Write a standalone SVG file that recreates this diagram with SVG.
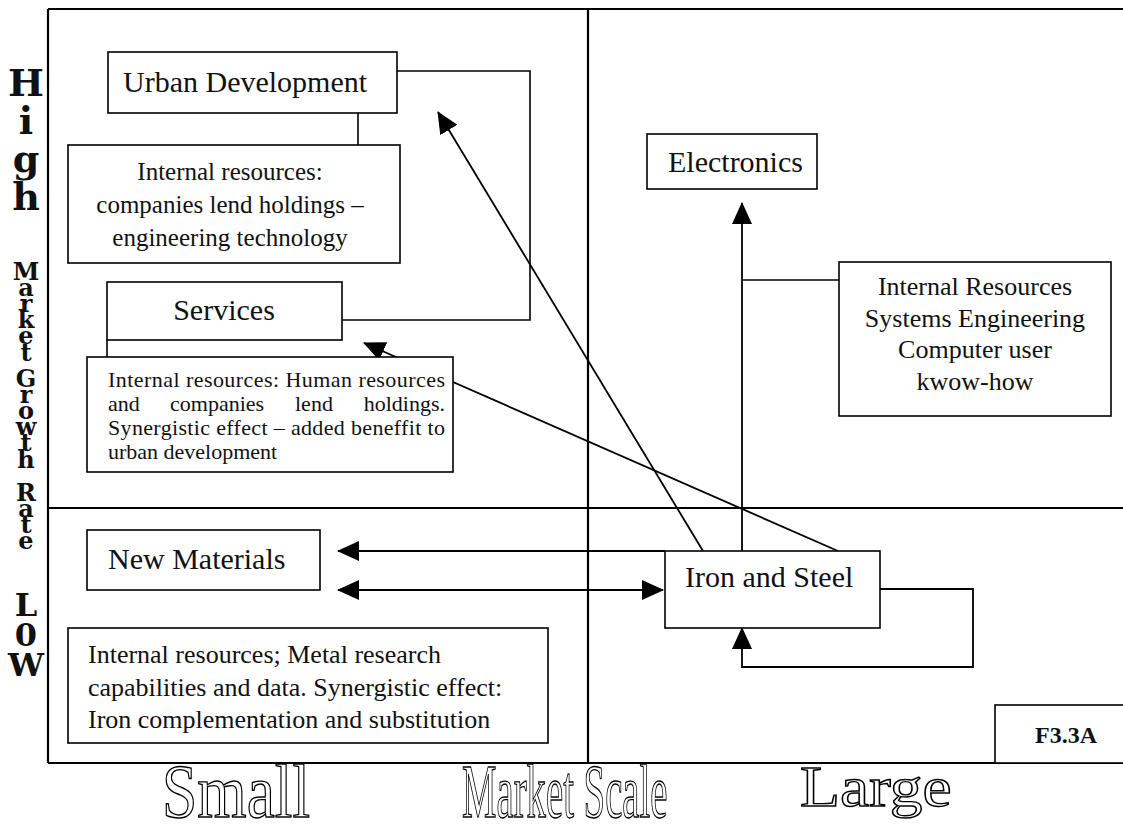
<svg xmlns="http://www.w3.org/2000/svg" width="1123" height="825" viewBox="0 0 1123 825">
  <defs>
    <marker id="arrow" markerUnits="userSpaceOnUse" markerWidth="22" markerHeight="20" viewBox="0 0 22 20" refX="21" refY="10" orient="auto-start-reverse">
      <path d="M0,0 L22,10 L0,20 Z" fill="#000"/>
    </marker>
    <style>
      .frame { stroke: #000; stroke-width: 2.2; fill: none; }
      .box { fill: #fff; stroke: #000; stroke-width: 1.6; }
      .link { fill: none; stroke: #000; stroke-width: 1.6; }
      .arr { fill: none; stroke: #000; stroke-width: 1.8; marker-end: url(#arrow); }
      .t { font-family: "Liberation Serif", "Times New Roman", serif; fill: #111; }
      .title { font-size: 30px; }
      .body { font-size: 26px; }
      .body25 { font-size: 25px; }
      .small { font-size: 22px; }
      .mid { text-anchor: middle; }
      .axis { font-family: "DejaVu Serif", "Liberation Serif", serif; font-weight: bold; fill: #111;
              writing-mode: vertical-rl; text-orientation: upright; }
      .hollow { font-family: "Liberation Serif", "Times New Roman", serif; fill: #fff; stroke: #000; stroke-width: 1.4; }
    </style>
  </defs>
  <rect width="1123" height="825" fill="#fff"/>

  <!-- quadrant frame -->
  <g id="frame" class="frame">
    <line x1="48" y1="9" x2="1123" y2="9"/>
    <line x1="48" y1="9" x2="48" y2="763"/>
    <line x1="48" y1="763" x2="1123" y2="763"/>
    <line x1="588" y1="9" x2="588" y2="763"/>
    <line x1="48" y1="508" x2="1123" y2="508"/>
  </g>

  <!-- vertical axis: growth rate, letters stacked upright -->
  <g id="axis-growth">
    <text class="axis" x="26" y="60" font-size="38" letter-spacing="-7">High</text>
    <text class="axis" x="26" y="257" font-size="24" letter-spacing="-12.9">Market</text>
    <text class="axis" x="26" y="364" font-size="24" letter-spacing="-12.9">Growth</text>
    <text class="axis" x="26" y="478" font-size="24" letter-spacing="-12.9">Rate</text>
    <text class="axis" x="26" y="586" font-size="32" letter-spacing="-8">L0W</text>
  </g>

  <!-- horizontal axis: market scale, hollow lettering -->
  <g id="axis-scale">
    <text class="hollow" transform="translate(162,817) scale(0.835,1)" font-size="76">Small</text>
    <text class="hollow" transform="translate(462,817) scale(0.51,1)" font-size="76">Market Scale</text>
    <text class="hollow" transform="translate(800,806) scale(1.15,1)" font-size="57">Large</text>
  </g>

  <!-- connectors -->
  <g id="connectors">
    <line class="link" x1="358" y1="113" x2="358" y2="145"/>
    <polyline class="link" points="397,71 530,71 530,320 342,320"/>
    <line class="link" x1="107" y1="340" x2="107" y2="357"/>
    <line class="link" x1="742" y1="280" x2="839" y2="280"/>
    <line class="arr" x1="703" y1="551" x2="438" y2="112"/>
    <line class="arr" x1="838" y1="551" x2="364" y2="343"/>
    <line class="arr" x1="742" y1="551" x2="742" y2="203"/>
    <line class="arr" x1="665" y1="551" x2="338" y2="551"/>
    <line class="arr" x1="338" y1="590" x2="663" y2="590" marker-start="url(#arrow)"/>
    <polyline class="arr" points="880,589 973,589 973,667 742,667 742,628"/>
  </g>

  <g id="urban-development">
    <rect class="box" x="108" y="52" width="289" height="61"/>
    <text class="t title" x="123" y="92">Urban Development</text>
  </g>

  <g id="urban-resources">
    <rect class="box" x="68" y="145" width="332" height="118"/>
    <text class="t body25 mid" x="230" y="180">Internal resources:</text>
    <text class="t body25 mid" x="230" y="213">companies lend holdings –</text>
    <text class="t body25 mid" x="230" y="246">engineering technology</text>
  </g>

  <g id="services">
    <rect class="box" x="107" y="282" width="235" height="58"/>
    <text class="t title mid" x="224" y="320">Services</text>
  </g>

  <g id="services-resources">
    <rect class="box" x="87" y="357" width="366" height="115"/>
    <text class="t small" x="108" y="387" textLength="337" lengthAdjust="spacing">Internal resources: Human resources</text>
    <text class="t small" x="108" y="411">and</text>
    <text class="t small" x="170" y="411">companies</text>
    <text class="t small" x="295" y="411">lend</text>
    <text class="t small" x="445" y="411" text-anchor="end">holdings.</text>
    <text class="t small" x="108" y="435" textLength="337" lengthAdjust="spacing">Synergistic effect – added beneffit to</text>
    <text class="t small" x="108" y="459">urban development</text>
  </g>

  <g id="electronics">
    <rect class="box" x="647" y="134" width="170" height="55"/>
    <text class="t title" x="668" y="172">Electronics</text>
  </g>

  <g id="electronics-resources">
    <rect class="box" x="839" y="262" width="272" height="154"/>
    <text class="t body mid" x="975" y="295">Internal Resources</text>
    <text class="t body mid" x="975" y="327">Systems Engineering</text>
    <text class="t body mid" x="975" y="358">Computer user</text>
    <text class="t body mid" x="975" y="390">kwow-how</text>
  </g>

  <g id="new-materials">
    <rect class="box" x="87" y="530" width="233" height="60"/>
    <text class="t title" x="108" y="569">New Materials</text>
  </g>

  <g id="iron-and-steel">
    <rect class="box" x="665" y="551" width="215" height="77"/>
    <text class="t title" x="685" y="587">Iron and Steel</text>
  </g>

  <g id="materials-resources">
    <rect class="box" x="68" y="628" width="480" height="115"/>
    <text class="t body" x="88" y="663">Internal resources; Metal research</text>
    <text class="t body" x="88" y="696">capabilities and data. Synergistic effect:</text>
    <text class="t body" x="88" y="728">Iron complementation and substitution</text>
  </g>

  <g id="figure-label">
    <rect class="box" x="995" y="705" width="140" height="58"/>
    <text class="t mid" x="1066" y="743" font-size="24" font-weight="bold">F3.3A</text>
  </g>
</svg>
